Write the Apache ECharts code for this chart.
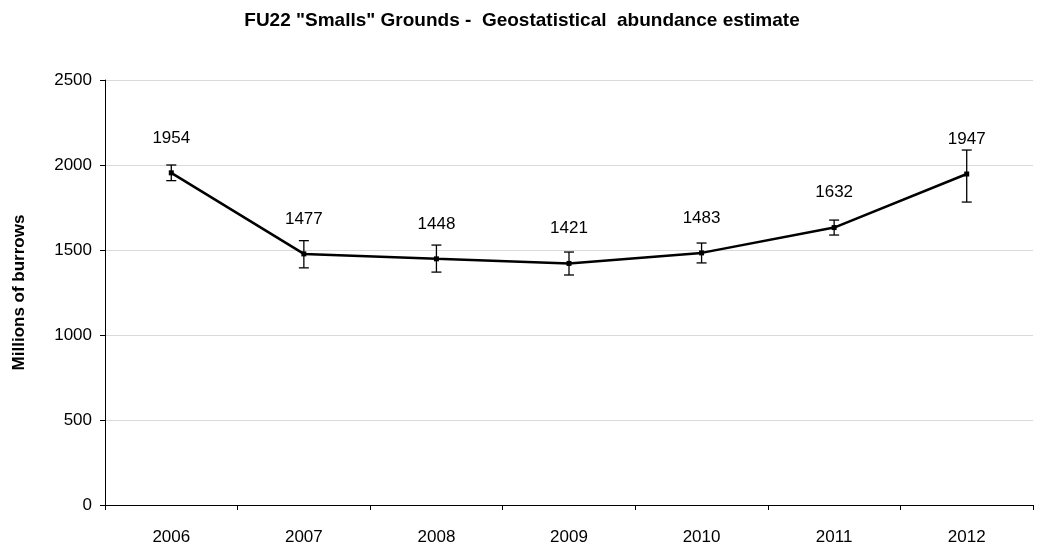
<!DOCTYPE html>
<html><head><meta charset="utf-8">
<script src="https://cdn.jsdelivr.net/npm/echarts@6/dist/echarts.min.js"></script>
<style>html,body{margin:0;padding:0;background:#fff}#c{width:1040px;height:550px}</style>
</head><body><div id="c"></div>
<script>
const years = ['2006','2007','2008','2009','2010','2011','2012'];
const abundance = [1954, 1477, 1448, 1421, 1483, 1632, 1947];
const errLow = [1908, 1395, 1370, 1353, 1424, 1588, 1782];
const errHigh = [2000, 1555, 1529, 1488, 1541, 1676, 2088];
const yTicks = [0, 500, 1000, 1500, 2000, 2500];

const chart = echarts.init(document.getElementById('c'), null, {renderer: 'canvas'});
const ff = '"Liberation Sans", Arial, sans-serif';
chart.setOption({
  animation: false,
  title: {
    text: 'FU22 "Smalls" Grounds -  Geostatistical  abundance estimate',
    left: 517, top: 6, textAlign: 'center',
    textStyle: {fontFamily: ff, fontSize: 19, fontWeight: 'bold', color: '#000'}
  },
  grid: {left: 105, right: 7, top: 80, bottom: 45, containLabel: false},
  xAxis: {
    type: 'category', data: years, boundaryGap: true,
    axisLine: {lineStyle: {color: '#000', width: 1}},
    axisTick: {show: true, alignWithLabel: false, length: 5, lineStyle: {color: '#000'}},
    axisLabel: {fontFamily: ff, fontSize: 17, color: '#000', margin: 24}
  },
  yAxis: {
    type: 'value', min: yTicks[0], max: yTicks[yTicks.length - 1], interval: 500,
    name: 'Millions of burrows', nameLocation: 'middle', nameGap: 77, nameRotate: 90,
    nameTextStyle: {fontFamily: ff, fontSize: 17, fontWeight: 'bold', color: '#000'},
    axisLine: {show: true, lineStyle: {color: '#000', width: 1}},
    axisTick: {show: true, length: 5, lineStyle: {color: '#000'}},
    axisLabel: {fontFamily: ff, fontSize: 17, color: '#000', margin: 13, formatter: v => String(v)},
    splitLine: {show: true, lineStyle: {color: '#d9d9d9', width: 1}}
  },
  series: [
    {
      type: 'line', data: abundance,
      symbol: 'rect', symbolSize: 5,
      lineStyle: {color: '#000', width: 2.5},
      itemStyle: {color: '#000'},
      label: {show: true, position: 'top', distance: 24, fontFamily: ff, fontSize: 17, color: '#000'},
      z: 3
    },
    {
      type: 'custom',
      data: years.map((y, i) => [i, errLow[i], errHigh[i]]),
      renderItem: function (params, api) {
        const lo = api.coord([api.value(0), api.value(1)]);
        const hi = api.coord([api.value(0), api.value(2)]);
        const w = 5;
        const st = {stroke: '#000', lineWidth: 1.3};
        return {
          type: 'group',
          children: [
            {type: 'line', shape: {x1: lo[0], y1: lo[1], x2: hi[0], y2: hi[1]}, style: st},
            {type: 'line', shape: {x1: lo[0] - w, y1: lo[1], x2: lo[0] + w, y2: lo[1]}, style: st},
            {type: 'line', shape: {x1: hi[0] - w, y1: hi[1], x2: hi[0] + w, y2: hi[1]}, style: st}
          ]
        };
      },
      z: 4
    }
  ]
});
</script></body></html>
